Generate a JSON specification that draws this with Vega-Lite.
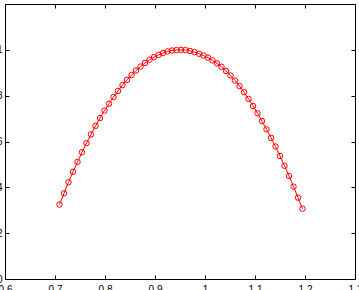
{
  "$schema": "https://vega.github.io/schema/vega-lite/v6.json",
  "width": 350,
  "height": 275,
  "autosize": "none",
  "padding": {"left": 5, "top": 4, "right": 4, "bottom": 11},
  "background": "white",
  "config": {
    "view": {"stroke": "black", "strokeWidth": 1},
    "axis": {
      "grid": false,
      "domain": false,
      "tickColor": "black",
      "tickWidth": 1,
      "tickSize": -4,
      "labelColor": "black",
      "labelFont": "Liberation Sans",
      "labelFontSize": 10,
      "title": null
    }
  },
  "data": {
    "values": [
      {"x": 0.709, "y": 0.325}, {"x": 0.718, "y": 0.374}, {"x": 0.727, "y": 0.422}, {"x": 0.736, "y": 0.468},
      {"x": 0.745, "y": 0.511}, {"x": 0.754, "y": 0.553}, {"x": 0.763, "y": 0.593}, {"x": 0.772, "y": 0.631},
      {"x": 0.781, "y": 0.668}, {"x": 0.790, "y": 0.702}, {"x": 0.799, "y": 0.735}, {"x": 0.808, "y": 0.765},
      {"x": 0.817, "y": 0.794}, {"x": 0.826, "y": 0.821}, {"x": 0.835, "y": 0.846}, {"x": 0.844, "y": 0.869},
      {"x": 0.853, "y": 0.890}, {"x": 0.862, "y": 0.910}, {"x": 0.871, "y": 0.927}, {"x": 0.880, "y": 0.943},
      {"x": 0.889, "y": 0.957}, {"x": 0.898, "y": 0.968}, {"x": 0.907, "y": 0.978}, {"x": 0.916, "y": 0.986},
      {"x": 0.925, "y": 0.993}, {"x": 0.934, "y": 0.997}, {"x": 0.943, "y": 0.999}, {"x": 0.952, "y": 1.000},
      {"x": 0.961, "y": 0.999}, {"x": 0.970, "y": 0.995}, {"x": 0.979, "y": 0.990}, {"x": 0.988, "y": 0.983},
      {"x": 0.997, "y": 0.975}, {"x": 1.006, "y": 0.966}, {"x": 1.015, "y": 0.954}, {"x": 1.024, "y": 0.941},
      {"x": 1.033, "y": 0.926}, {"x": 1.042, "y": 0.908}, {"x": 1.051, "y": 0.888}, {"x": 1.060, "y": 0.866},
      {"x": 1.069, "y": 0.842}, {"x": 1.078, "y": 0.815}, {"x": 1.087, "y": 0.786}, {"x": 1.096, "y": 0.755},
      {"x": 1.105, "y": 0.723}, {"x": 1.114, "y": 0.689}, {"x": 1.123, "y": 0.653}, {"x": 1.132, "y": 0.616},
      {"x": 1.141, "y": 0.578}, {"x": 1.150, "y": 0.537}, {"x": 1.159, "y": 0.494}, {"x": 1.168, "y": 0.450},
      {"x": 1.177, "y": 0.403}, {"x": 1.186, "y": 0.355}, {"x": 1.195, "y": 0.307}
    ]
  },
  "layer": [
    {
      "mark": {
        "type": "line",
        "color": "#ff0000",
        "strokeWidth": 1,
        "point": {"filled": false, "size": 30, "color": "#ff0000", "strokeWidth": 1}
      },
      "encoding": {
        "x": {
          "field": "x", "type": "quantitative",
          "scale": {"domain": [0.6, 1.3], "nice": false, "zero": false},
          "axis": {"orient": "bottom", "values": [0.6, 0.7, 0.8, 0.9, 1, 1.1, 1.2, 1.3], "format": "~g", "labelPadding": 9, "labelFlush": false, "labelOverlap": false}
        },
        "y": {
          "field": "y", "type": "quantitative",
          "scale": {"domain": [0, 1.2], "nice": false, "zero": false},
          "axis": {"orient": "left", "values": [0, 0.2, 0.4, 0.6, 0.8, 1], "format": "~g", "labelPadding": 7, "labelFlush": false, "labelOverlap": false}
        }
      }
    },
    {
      "mark": {"type": "point", "opacity": 0},
      "encoding": {
        "x": {
          "field": "x", "type": "quantitative",
          "axis": {"orient": "top", "values": [0.6, 0.7, 0.8, 0.9, 1, 1.1, 1.2, 1.3], "labels": false}
        },
        "y": {
          "field": "y", "type": "quantitative",
          "axis": {"orient": "right", "values": [0, 0.2, 0.4, 0.6, 0.8, 1], "labels": false}
        }
      }
    }
  ],
  "resolve": {"axis": {"x": "independent", "y": "independent"}}
}
